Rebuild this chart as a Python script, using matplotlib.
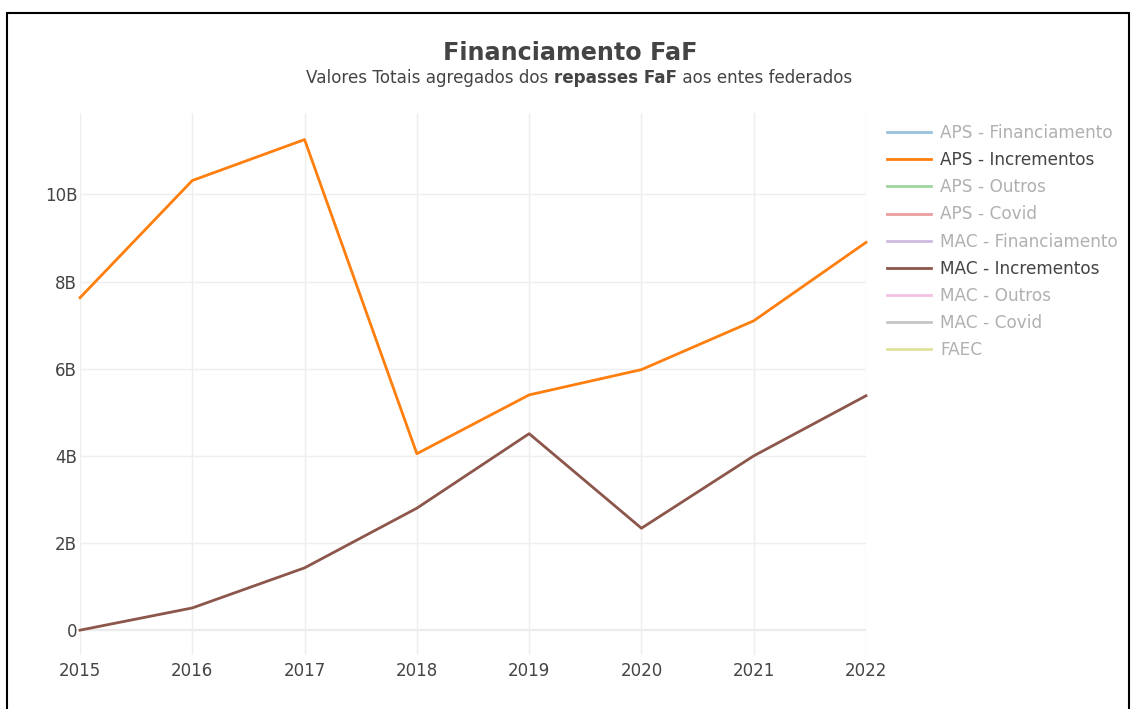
import numpy as np
import matplotlib
matplotlib.use("Agg")
import matplotlib.pyplot as plt
from matplotlib.lines import Line2D
from matplotlib.patches import Rectangle

# dados (valores em bilhões)
anos = [2015, 2016, 2017, 2018, 2019, 2020, 2021, 2022]
aps_incrementos = [7.63, 10.32, 11.26, 4.05, 5.40, 5.98, 7.10, 8.90]
mac_incrementos = [0.0, 0.51, 1.43, 2.80, 4.51, 2.34, 4.00, 5.38]

series = ["APS - Financiamento", "APS - Incrementos", "APS - Outros", "APS - Covid",
          "MAC - Financiamento", "MAC - Incrementos", "MAC - Outros", "MAC - Covid", "FAEC"]
cores = ["#1f77b4", "#ff7f0e", "#2ca02c", "#d62728", "#9467bd",
         "#8c564b", "#e377c2", "#7f7f7f", "#bcbd22"]
visiveis = {"APS - Incrementos": aps_incrementos, "MAC - Incrementos": mac_incrementos}

yticks = [0, 2, 4, 6, 8, 10]
ytick_labels = ["0", "2B", "4B", "6B", "8B", "10B"]

plt.rcParams['font.family'] = ['DejaVu Sans']
W, H = 1131, 709
fig = plt.figure(figsize=(W / 100, H / 100), dpi=100)
fig.patch.set_facecolor("white")

# moldura preta
fig.add_artist(Rectangle((7 / W, -0.01), (1129 - 7) / W, 1 - 13 / H + 0.01,
                         transform=fig.transFigure, fill=False, edgecolor="black", lw=1.5))

ax = fig.add_axes([80 / W, 1 - 655 / H, (866 - 80) / W, (655 - 113) / H])
ax.set_xlim(2015, 2022)
ax.set_ylim(-0.57, 11.87)
for s in ax.spines.values():
  s.set_visible(False)
ax.set_xticks(anos)
ax.set_yticks(yticks)
ax.set_yticklabels(ytick_labels)
ax.tick_params(length=0, colors="#444444", labelsize=12)
ax.tick_params(axis="y", pad=2)
ax.tick_params(axis="x", pad=5)
ax.grid(True, color="#eeeeee", lw=1)
ax.set_axisbelow(True)
ax.axhline(0, color="#e8e8e8", lw=1.5, zorder=0)

handles = []
for nome, cor in zip(series, cores):
  if nome in visiveis:
    ax.plot(anos, visiveis[nome], color=cor, lw=2, clip_on=False, zorder=3)
    handles.append(Line2D([], [], color=cor, lw=2))
  else:
    handles.append(Line2D([], [], color=cor, lw=2, alpha=0.45))

leg = fig.legend(handles, series, loc="upper left", bbox_to_anchor=(887 / W, 1 - 124 / H),
                 frameon=False, fontsize=12.2, handlelength=2.6, handletextpad=0.55,
                 labelspacing=0.54, borderaxespad=0, borderpad=0)
for t, nome in zip(leg.get_texts(), series):
  t.set_color("#444444" if nome in visiveis else "#b0b0b0")

fig.text(570.5 / W, 1 - 53 / H, "Financiamento FaF", ha="center", va="center",
         fontsize=17.2, fontweight="bold", color="#444444")

# subtítulo com parte em negrito
partes = [("Valores Totais agregados dos ", "normal"), ("repasses FaF", "bold"),
          (" aos entes federados", "normal")]
textos = [fig.text(0, 1 - 78 / H, p, ha="left", va="center", fontsize=12.1,
                   fontweight=w, color="#444444") for p, w in partes]
fig.canvas.draw()
r = fig.canvas.get_renderer()
larg = [t.get_window_extent(r).width for t in textos]
x = 579 - sum(larg) / 2
for t, w in zip(textos, larg):
  t.set_x(x / W)
  x += w

fig.savefig("out.png", dpi=100)
